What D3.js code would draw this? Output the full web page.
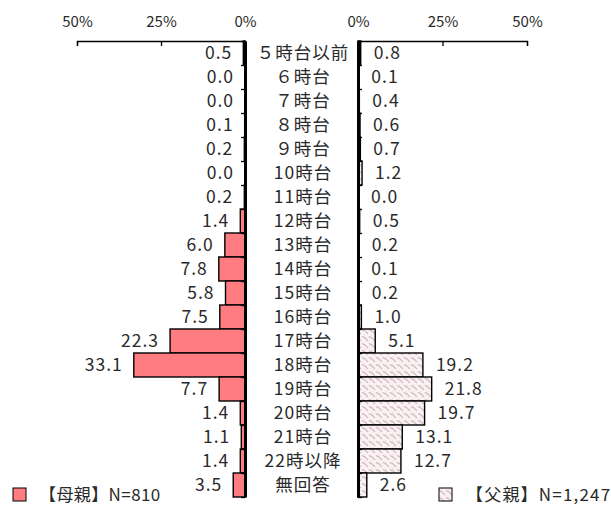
<!DOCTYPE html>
<html>
<head>
<meta charset="utf-8">
<script src="https://cdn.jsdelivr.net/npm/d3@7"></script>
<style>
  html, body { margin: 0; padding: 0; background: #fff; }
  svg text { font-family: "Noto Sans CJK JP", "Noto Sans", sans-serif; fill: #2a2a2a; }
</style>
</head>
<body>
<svg id="chart" width="611" height="506"></svg>
<script>
// Return-home time by hour: mothers (left) vs fathers (right), percent
const categories = ["５時台以前", "６時台", "７時台", "８時台", "９時台", "10時台", "11時台", "12時台",
  "13時台", "14時台", "15時台", "16時台", "17時台", "18時台", "19時台", "20時台", "21時台",
  "22時以降", "無回答"];
const motherValues = [0.5, 0.0, 0.0, 0.1, 0.2, 0.0, 0.2, 1.4, 6.0, 7.8, 5.8, 7.5, 22.3, 33.1, 7.7, 1.4, 1.1, 1.4, 3.5];
const fatherValues = [0.8, 0.1, 0.4, 0.6, 0.7, 1.2, 0.0, 0.5, 0.2, 0.1, 0.2, 1.0, 5.1, 19.2, 21.8, 19.7, 13.1, 12.7, 2.6];
const axisTicks = [0, 25, 50];
const legendLabels = ["【母親】N=810", "【父親】N=1,247"];

const svg = d3.select("#chart");
const plotTop = 41, plotBottom = 497;
const motherColor = "#FF7C80";

// hatch fill for the father series
const defs = svg.append("defs");
const pat = defs.append("pattern")
  .attr("id", "hatch").attr("patternUnits", "userSpaceOnUse")
  .attr("width", 7).attr("height", 7);
pat.append("rect").attr("width", 7).attr("height", 7).attr("fill", "#FBF1F3");
pat.append("path").attr("d", "M0,1 L4,5").attr("stroke", "#CDBABE").attr("stroke-width", 1.1);
pat.append("path").attr("d", "M5,0 L7,2 M-2,5 L1,8").attr("stroke", "#CDBABE").attr("stroke-width", 1.1);

const y = d3.scaleBand().domain(categories).range([plotTop, plotBottom]).padding(0);
const yIdx = d3.scaleLinear().domain([0, categories.length]).range([plotTop, plotBottom]);

const xL = d3.scaleLinear().domain([0, 50]).range([245, 77]);
const xR = d3.scaleLinear().domain([0, 50]).range([358, 527]);
const fmt = d3.format(".1f");

// top percentage axes
function topAxis(scale) {
  const g = svg.append("g").attr("transform", `translate(0,${plotTop})`)
    .call(d3.axisTop(scale).tickValues(axisTicks).tickFormat(d => d + "%")
      .tickSizeInner(-5).tickSizeOuter(-5).tickPadding(14));
  g.selectAll("path,line").attr("stroke", "#000").attr("stroke-width", 1.3);
  g.selectAll("text").attr("font-size", 15).attr("fill", "#2a2a2a")
    .style("font-family", "'Noto Sans CJK JP', sans-serif");
  return g;
}
topAxis(xL);
topAxis(xR);

// mother bars
svg.append("g").selectAll("rect").data(motherValues).join("rect")
  .attr("x", d => xL(d)).attr("width", d => xL(0) - xL(d))
  .attr("y", (d, i) => y(categories[i])).attr("height", y.bandwidth())
  .attr("fill", motherColor).attr("stroke", "#000").attr("stroke-width", 1.4);

// father bars
svg.append("g").selectAll("rect").data(fatherValues).join("rect")
  .attr("x", xR(0)).attr("width", d => xR(d) - xR(0))
  .attr("y", (d, i) => y(categories[i])).attr("height", y.bandwidth())
  .attr("fill", "url(#hatch)").attr("stroke", "#000").attr("stroke-width", 1.4);

// zero baselines with boundary ticks
const gL = svg.append("g").attr("transform", `translate(${xL(0)},0)`)
  .call(d3.axisLeft(yIdx).ticks(categories.length).tickFormat("").tickSizeInner(4).tickSizeOuter(0));
gL.select("path").attr("stroke", "#000").attr("stroke-width", 3);
gL.selectAll("line").attr("stroke", "#000").attr("stroke-width", 1.3);

const gR = svg.append("g").attr("transform", `translate(${xR(0)},0)`)
  .call(d3.axisRight(yIdx).ticks(categories.length).tickFormat("").tickSizeInner(4).tickSizeOuter(0));
gR.select("path").attr("stroke", "#000").attr("stroke-width", 3);
gR.selectAll("line").attr("stroke", "#000").attr("stroke-width", 1.3);

// value labels
svg.append("g").selectAll("text").data(motherValues).join("text")
  .attr("x", d => xL(d) - 11)
  .attr("y", (d, i) => y(categories[i]) + y.bandwidth() / 2)
  .attr("dy", "0.36em").attr("text-anchor", "end")
  .attr("font-size", 17.5).attr("letter-spacing", 1)
  .text(d => fmt(d));

svg.append("g").selectAll("text").data(fatherValues).join("text")
  .attr("x", d => xR(d) + 13)
  .attr("y", (d, i) => y(categories[i]) + y.bandwidth() / 2)
  .attr("dy", "0.36em").attr("text-anchor", "start")
  .attr("font-size", 17.5).attr("letter-spacing", 1)
  .text(d => fmt(d));

// category labels between the two halves
svg.append("g").selectAll("text").data(categories).join("text")
  .attr("x", (xL(0) + xR(0)) / 2 + 1.5)
  .attr("y", d => y(d) + y.bandwidth() / 2)
  .attr("dy", "0.36em").attr("text-anchor", "middle")
  .attr("font-size", 17.5).attr("letter-spacing", 1)
  .text(d => d);

// legends
const legend = svg.append("g");
legend.append("rect").attr("x", 13).attr("y", 488).attr("width", 13).attr("height", 13)
  .attr("fill", motherColor).attr("stroke", "#000").attr("stroke-width", 1);
legend.append("text").attr("x", 39).attr("y", 495).attr("dy", "0.36em")
  .attr("font-size", 17).attr("letter-spacing", 0.4).text(legendLabels[0]);
legend.append("rect").attr("x", 439).attr("y", 488).attr("width", 13).attr("height", 13)
  .attr("fill", "url(#hatch)").attr("stroke", "#000").attr("stroke-width", 1);
legend.append("text").attr("x", 466).attr("y", 495).attr("dy", "0.36em")
  .attr("font-size", 17).attr("letter-spacing", 1.2).text(legendLabels[1]);
</script>
</body>
</html>
